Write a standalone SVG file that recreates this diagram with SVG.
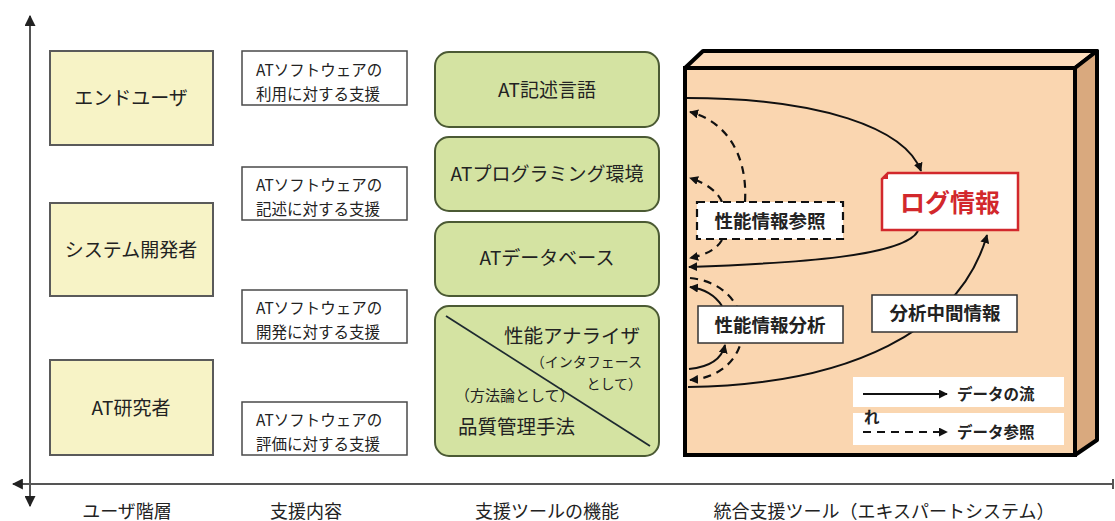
<svg xmlns="http://www.w3.org/2000/svg" width="1115" height="521" viewBox="0 0 1115 521">
<defs>
<style>
text{font-family:"Noto Sans CJK JP","Noto Sans",sans-serif;fill:#222}
.user{fill:#f7f3c6;stroke:#5a5a5a;stroke-width:2}
.sup{fill:#fff;stroke:#4a4a4a;stroke-width:1.5}
.tool{fill:#d4e3a2;stroke:#4b5a34;stroke-width:2}
.axis{stroke:#555;stroke-width:2;fill:none}
.flow{stroke:#111;stroke-width:2;fill:none}
.ref{stroke:#111;stroke-width:2.2;fill:none;stroke-dasharray:8 6}
.lbl{font-size:18px}
.u{font-size:19px;text-anchor:middle}
.s{font-size:15.5px}
.t{font-size:19px;text-anchor:middle}
.b{font-size:18.5px;font-weight:bold;text-anchor:middle}
.lg{font-size:15.5px;font-weight:bold}
</style>
<marker id="ah" viewBox="0 0 10 10" refX="9" refY="5" markerWidth="9" markerHeight="9" markerUnits="userSpaceOnUse" orient="auto"><path d="M0,0 L10,5 L0,10 z" fill="#111"/></marker>
<marker id="ax" viewBox="0 0 10 10" refX="9" refY="5" markerWidth="11" markerHeight="11" markerUnits="userSpaceOnUse" orient="auto"><path d="M0,0 L10,5 L0,10 z" fill="#222"/></marker>
</defs>
<rect width="1115" height="521" fill="#fff"/>
<g id="axes">
<line class="axis" x1="30" y1="498" x2="30" y2="16" marker-end="url(#ax)"/>
<line class="axis" x1="30" y1="484" x2="30" y2="506" marker-end="url(#ax)"/>
<line class="axis" x1="1112" y1="484" x2="13" y2="484" marker-end="url(#ax)"/>
<line class="axis" x1="1113" y1="479" x2="1113" y2="489"/>
</g>
<g id="users">
<g id="enduser"><rect class="user" x="50" y="51" width="163" height="94"/><text class="u" x="131" y="105">エンドユーザ</text></g>
<g id="sysdev"><rect class="user" x="50" y="203" width="163" height="93"/><text class="u" x="131" y="257">システム開発者</text></g>
<g id="atres"><rect class="user" x="50" y="360" width="163" height="95"/><text class="u" x="131" y="415">AT研究者</text></g>
</g>
<g id="supports">
<g id="sup1"><rect class="sup" x="242" y="51" width="165" height="54"/><text class="s" x="256" y="76">ATソフトウェアの</text><text class="s" x="256" y="100">利用に対する支援</text></g>
<g id="sup2"><rect class="sup" x="242" y="167" width="165" height="53"/><text class="s" x="256" y="191">ATソフトウェアの</text><text class="s" x="256" y="215">記述に対する支援</text></g>
<g id="sup3"><rect class="sup" x="242" y="290" width="165" height="53"/><text class="s" x="256" y="314">ATソフトウェアの</text><text class="s" x="256" y="338">開発に対する支援</text></g>
<g id="sup4"><rect class="sup" x="242" y="402" width="165" height="53"/><text class="s" x="256" y="426">ATソフトウェアの</text><text class="s" x="256" y="450">評価に対する支援</text></g>
</g>
<g id="tools">
<g id="tool1"><rect class="tool" x="435" y="52" width="224" height="75" rx="14"/><text class="t" x="547" y="97">AT記述言語</text></g>
<g id="tool2"><rect class="tool" x="435" y="137" width="224" height="74" rx="14"/><text class="t" x="547" y="181">ATプログラミング環境</text></g>
<g id="tool3"><rect class="tool" x="435" y="222" width="224" height="74" rx="14"/><text class="t" x="547" y="265">ATデータベース</text></g>
<g id="tool4"><rect class="tool" x="435" y="306" width="224" height="150" rx="14"/>
<line x1="446" y1="316" x2="650" y2="446" stroke="#1e2a30" stroke-width="1.8"/>
<text x="640" y="343" font-size="19.5" text-anchor="end">性能アナライザ</text>
<text x="642" y="367" font-size="14" text-anchor="end">（インタフェース</text>
<text x="642" y="389" font-size="14" text-anchor="end">として）</text>
<text x="455" y="401" font-size="15">（方法論として）</text>
<text x="458" y="434" font-size="19.5">品質管理手法</text>
</g>
</g>
<g id="expert">
<polygon points="685,68 703,51 1097,51 1075,68" fill="#fcdcbc" stroke="#000" stroke-width="4" stroke-linejoin="round"/>
<polygon points="1075,68 1097,51 1097,440 1075,455" fill="#d9a97e" stroke="#000" stroke-width="4" stroke-linejoin="round"/>
<rect x="685" y="68" width="390" height="387" fill="#fad6b0" stroke="#000" stroke-width="4"/>
</g>
<g id="legend">
<rect x="853" y="377" width="211" height="30" fill="#fff"/>
<rect x="853" y="413" width="211" height="32" fill="#fff"/>
<line class="flow" x1="863" y1="394" x2="947" y2="394" marker-end="url(#ah)"/>
<line class="ref" x1="863" y1="432" x2="947" y2="432" stroke-dasharray="7 5" marker-end="url(#ah)"/>
<text class="lg" x="957" y="400">データの流</text>
<text class="lg" x="864" y="423">れ</text>
<text class="lg" x="957" y="438">データ参照</text>
</g>
<g id="connectors">
<path class="flow" d="M687,98 C820,98 905,128 921,171" marker-end="url(#ah)"/>
<path class="flow" d="M918,231 C905,256 800,263 689,267" marker-end="url(#ah)"/>
<path class="flow" d="M688,387 C850,385 960,330 987,235" marker-end="url(#ah)"/>
<path class="ref" d="M745,202 C748,150 722,120 690,112" marker-end="url(#ah)"/>
<path class="ref" d="M722,202 C718,192 706,183 690,178" marker-end="url(#ah)"/>
<path class="ref" d="M722,240 C716,250 705,255 690,258" marker-end="url(#ah)"/>
<path class="flow" d="M722,306 C715,295 705,289 690,287" marker-end="url(#ah)"/>
<path class="ref" d="M690,278 C760,285 760,375 690,380" marker-end="url(#ah)"/>
<path class="flow" d="M689,369 C710,367 722,358 725,345" marker-end="url(#ah)"/>
</g>
<g id="logInfo">
<polygon points="888,173 1018,173 1018,230 882,230 882,179" fill="#fff" stroke="#d2282c" stroke-width="2.5"/>
<polygon points="882,179 888,173 888,179" fill="#d2282c"/>
<text x="950" y="212" font-size="25" font-weight="bold" text-anchor="middle" style="fill:#d2282c">ログ情報</text>
</g>
<g id="perfRef">
<rect x="697" y="202" width="146" height="37" fill="#fff" stroke="#111" stroke-width="2.2" stroke-dasharray="8 5"/>
<text class="b" x="770" y="228">性能情報参照</text>
</g>
<g id="perfAnalysis">
<rect x="698" y="306" width="145" height="37" fill="#fff" stroke="#333" stroke-width="1.5"/>
<text class="b" x="770" y="332">性能情報分析</text>
</g>
<g id="midInfo">
<rect x="872" y="295" width="145" height="37" fill="#fff" stroke="#333" stroke-width="1.5"/>
<text class="b" x="945" y="320">分析中間情報</text>
</g>
<g id="bottomLabels">
<text class="lbl" x="127" y="518" text-anchor="middle">ユーザ階層</text>
<text class="lbl" x="306" y="518" text-anchor="middle">支援内容</text>
<text class="lbl" x="547" y="518" text-anchor="middle">支援ツールの機能</text>
<text class="lbl" x="884" y="518" text-anchor="middle">統合支援ツール（エキスパートシステム）</text>
</g>
</svg>
